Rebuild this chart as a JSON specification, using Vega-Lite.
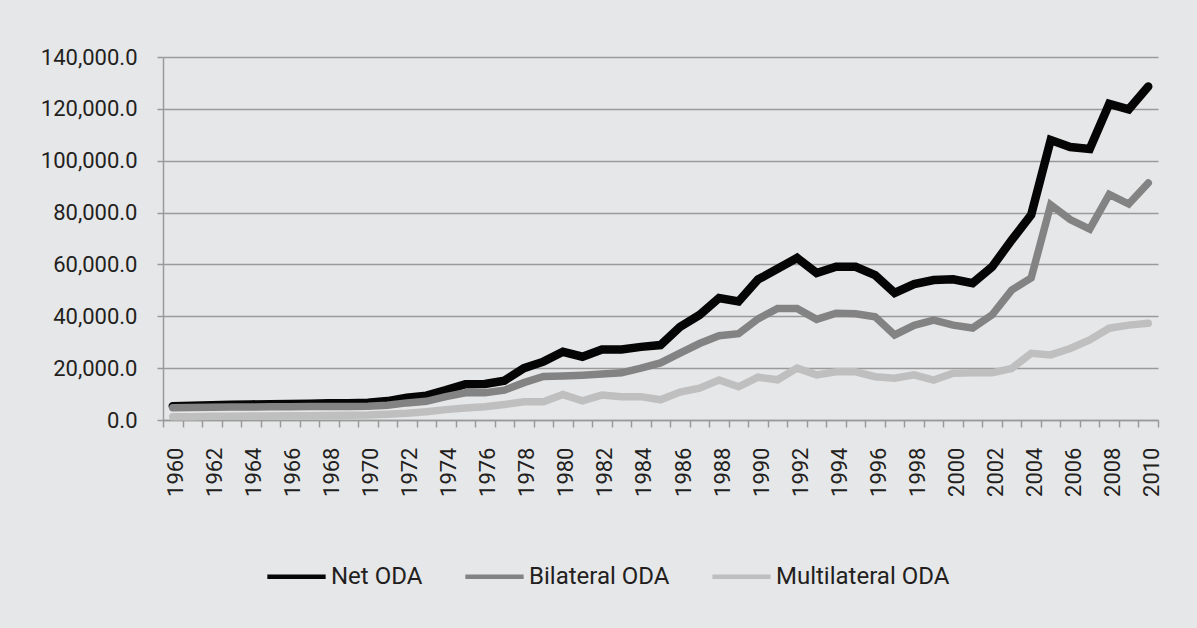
{
  "$schema": "https://vega.github.io/schema/vega-lite/v6.json",
  "autosize": {"type": "none"},
  "width": 995,
  "height": 363,
  "padding": {"left": 163, "top": 57, "right": 39, "bottom": 208},
  "background": "#e6e7e9",
  "config": {
    "view": {"stroke": null},
    "font": "Roboto",
    "axis": {"labelFont": "Roboto", "labelColor": "#231f20", "domainColor": "#9a9a9a", "tickColor": "#9a9a9a", "gridColor": "#9a9a9a", "domainWidth": 1.5, "tickWidth": 1.5, "gridWidth": 1.5}
  },
  "datasets": {
    "oda": [
      {"year":1960,"series":"Net ODA","value":5300},{"year":1961,"series":"Net ODA","value":5500},{"year":1962,"series":"Net ODA","value":5700},{"year":1963,"series":"Net ODA","value":5900},{"year":1964,"series":"Net ODA","value":6000},{"year":1965,"series":"Net ODA","value":6100},{"year":1966,"series":"Net ODA","value":6200},{"year":1967,"series":"Net ODA","value":6300},{"year":1968,"series":"Net ODA","value":6500},{"year":1969,"series":"Net ODA","value":6500},{"year":1970,"series":"Net ODA","value":6700},{"year":1971,"series":"Net ODA","value":7300},{"year":1972,"series":"Net ODA","value":8600},{"year":1973,"series":"Net ODA","value":9400},{"year":1974,"series":"Net ODA","value":11500},{"year":1975,"series":"Net ODA","value":13800},{"year":1976,"series":"Net ODA","value":13900},{"year":1977,"series":"Net ODA","value":15200},{"year":1978,"series":"Net ODA","value":20000},{"year":1979,"series":"Net ODA","value":22500},{"year":1980,"series":"Net ODA","value":26300},{"year":1981,"series":"Net ODA","value":24400},{"year":1982,"series":"Net ODA","value":27200},{"year":1983,"series":"Net ODA","value":27200},{"year":1984,"series":"Net ODA","value":28200},{"year":1985,"series":"Net ODA","value":28900},{"year":1986,"series":"Net ODA","value":35900},{"year":1987,"series":"Net ODA","value":40500},{"year":1988,"series":"Net ODA","value":47000},{"year":1989,"series":"Net ODA","value":45700},{"year":1990,"series":"Net ODA","value":54200},{"year":1991,"series":"Net ODA","value":58300},{"year":1992,"series":"Net ODA","value":62500},{"year":1993,"series":"Net ODA","value":56700},{"year":1994,"series":"Net ODA","value":59100},{"year":1995,"series":"Net ODA","value":59100},{"year":1996,"series":"Net ODA","value":55900},{"year":1997,"series":"Net ODA","value":49000},{"year":1998,"series":"Net ODA","value":52400},{"year":1999,"series":"Net ODA","value":54000},{"year":2000,"series":"Net ODA","value":54300},{"year":2001,"series":"Net ODA","value":52800},{"year":2002,"series":"Net ODA","value":59100},{"year":2003,"series":"Net ODA","value":69400},{"year":2004,"series":"Net ODA","value":79100},{"year":2005,"series":"Net ODA","value":108000},{"year":2006,"series":"Net ODA","value":105300},{"year":2007,"series":"Net ODA","value":104500},{"year":2008,"series":"Net ODA","value":121900},{"year":2009,"series":"Net ODA","value":119800},{"year":2010,"series":"Net ODA","value":128600},
      {"year":1960,"series":"Bilateral ODA","value":4700},{"year":1961,"series":"Bilateral ODA","value":4800},{"year":1962,"series":"Bilateral ODA","value":4900},{"year":1963,"series":"Bilateral ODA","value":5000},{"year":1964,"series":"Bilateral ODA","value":5000},{"year":1965,"series":"Bilateral ODA","value":5100},{"year":1966,"series":"Bilateral ODA","value":5100},{"year":1967,"series":"Bilateral ODA","value":5200},{"year":1968,"series":"Bilateral ODA","value":5200},{"year":1969,"series":"Bilateral ODA","value":5200},{"year":1970,"series":"Bilateral ODA","value":5300},{"year":1971,"series":"Bilateral ODA","value":5700},{"year":1972,"series":"Bilateral ODA","value":6600},{"year":1973,"series":"Bilateral ODA","value":7200},{"year":1974,"series":"Bilateral ODA","value":9000},{"year":1975,"series":"Bilateral ODA","value":10500},{"year":1976,"series":"Bilateral ODA","value":10500},{"year":1977,"series":"Bilateral ODA","value":11500},{"year":1978,"series":"Bilateral ODA","value":14400},{"year":1979,"series":"Bilateral ODA","value":16800},{"year":1980,"series":"Bilateral ODA","value":17000},{"year":1981,"series":"Bilateral ODA","value":17300},{"year":1982,"series":"Bilateral ODA","value":17700},{"year":1983,"series":"Bilateral ODA","value":18200},{"year":1984,"series":"Bilateral ODA","value":20000},{"year":1985,"series":"Bilateral ODA","value":22000},{"year":1986,"series":"Bilateral ODA","value":25800},{"year":1987,"series":"Bilateral ODA","value":29500},{"year":1988,"series":"Bilateral ODA","value":32500},{"year":1989,"series":"Bilateral ODA","value":33300},{"year":1990,"series":"Bilateral ODA","value":39000},{"year":1991,"series":"Bilateral ODA","value":43000},{"year":1992,"series":"Bilateral ODA","value":43000},{"year":1993,"series":"Bilateral ODA","value":38800},{"year":1994,"series":"Bilateral ODA","value":41200},{"year":1995,"series":"Bilateral ODA","value":41000},{"year":1996,"series":"Bilateral ODA","value":39800},{"year":1997,"series":"Bilateral ODA","value":32800},{"year":1998,"series":"Bilateral ODA","value":36500},{"year":1999,"series":"Bilateral ODA","value":38500},{"year":2000,"series":"Bilateral ODA","value":36600},{"year":2001,"series":"Bilateral ODA","value":35500},{"year":2002,"series":"Bilateral ODA","value":40600},{"year":2003,"series":"Bilateral ODA","value":50100},{"year":2004,"series":"Bilateral ODA","value":54800},{"year":2005,"series":"Bilateral ODA","value":83000},{"year":2006,"series":"Bilateral ODA","value":77300},{"year":2007,"series":"Bilateral ODA","value":73600},{"year":2008,"series":"Bilateral ODA","value":87000},{"year":2009,"series":"Bilateral ODA","value":83300},{"year":2010,"series":"Bilateral ODA","value":91400},
      {"year":1960,"series":"Multilateral ODA","value":1300},{"year":1961,"series":"Multilateral ODA","value":1300},{"year":1962,"series":"Multilateral ODA","value":1400},{"year":1963,"series":"Multilateral ODA","value":1400},{"year":1964,"series":"Multilateral ODA","value":1500},{"year":1965,"series":"Multilateral ODA","value":1500},{"year":1966,"series":"Multilateral ODA","value":1600},{"year":1967,"series":"Multilateral ODA","value":1600},{"year":1968,"series":"Multilateral ODA","value":1700},{"year":1969,"series":"Multilateral ODA","value":1800},{"year":1970,"series":"Multilateral ODA","value":1900},{"year":1971,"series":"Multilateral ODA","value":2200},{"year":1972,"series":"Multilateral ODA","value":2600},{"year":1973,"series":"Multilateral ODA","value":3200},{"year":1974,"series":"Multilateral ODA","value":4000},{"year":1975,"series":"Multilateral ODA","value":4600},{"year":1976,"series":"Multilateral ODA","value":5100},{"year":1977,"series":"Multilateral ODA","value":6000},{"year":1978,"series":"Multilateral ODA","value":7000},{"year":1979,"series":"Multilateral ODA","value":7000},{"year":1980,"series":"Multilateral ODA","value":9800},{"year":1981,"series":"Multilateral ODA","value":7400},{"year":1982,"series":"Multilateral ODA","value":9600},{"year":1983,"series":"Multilateral ODA","value":9000},{"year":1984,"series":"Multilateral ODA","value":9000},{"year":1985,"series":"Multilateral ODA","value":7800},{"year":1986,"series":"Multilateral ODA","value":10800},{"year":1987,"series":"Multilateral ODA","value":12300},{"year":1988,"series":"Multilateral ODA","value":15400},{"year":1989,"series":"Multilateral ODA","value":12800},{"year":1990,"series":"Multilateral ODA","value":16500},{"year":1991,"series":"Multilateral ODA","value":15500},{"year":1992,"series":"Multilateral ODA","value":20000},{"year":1993,"series":"Multilateral ODA","value":17400},{"year":1994,"series":"Multilateral ODA","value":18600},{"year":1995,"series":"Multilateral ODA","value":18600},{"year":1996,"series":"Multilateral ODA","value":16700},{"year":1997,"series":"Multilateral ODA","value":16100},{"year":1998,"series":"Multilateral ODA","value":17400},{"year":1999,"series":"Multilateral ODA","value":15400},{"year":2000,"series":"Multilateral ODA","value":18000},{"year":2001,"series":"Multilateral ODA","value":18200},{"year":2002,"series":"Multilateral ODA","value":18200},{"year":2003,"series":"Multilateral ODA","value":19900},{"year":2004,"series":"Multilateral ODA","value":25700},{"year":2005,"series":"Multilateral ODA","value":25100},{"year":2006,"series":"Multilateral ODA","value":27600},{"year":2007,"series":"Multilateral ODA","value":30900},{"year":2008,"series":"Multilateral ODA","value":35400},{"year":2009,"series":"Multilateral ODA","value":36600},{"year":2010,"series":"Multilateral ODA","value":37300}
    ]
  },
  "data": {"name": "oda"},
  "encoding": {
    "x": {
      "field": "year", "type": "ordinal",
      "scale": {"type": "band", "paddingInner": 0, "paddingOuter": 0},
      "axis": {
        "title": null, "labelAngle": -90, "labelFontSize": 22, "labelPadding": 20,
        "labelAlign": "right", "labelBaseline": "middle", "labelOffset": 3,
        "tickBand": "extent", "tickSize": 7, "grid": false,
        "labelExpr": "datum.value % 2 == 0 ? datum.label : ''"
      }
    },
    "y": {
      "field": "value", "type": "quantitative",
      "scale": {"domain": [0, 140000], "nice": false},
      "axis": {
        "title": null, "values": [0,20000,40000,60000,80000,100000,120000,140000],
        "format": ",.1f", "labelFontSize": 22, "labelPadding": 20, "tickSize": 6,
        "grid": true
      }
    },
    "color": {
      "field": "series", "type": "nominal",
      "scale": {"domain": ["Net ODA","Bilateral ODA","Multilateral ODA"], "range": ["#050505","#838383","#bfbfbf"]},
      "legend": {
        "title": null, "orient": "none", "direction": "horizontal",
        "legendX": 102, "legendY": 488,
        "symbolType": "stroke", "symbolSize": 3400, "symbolStrokeWidth": 4.5,
        "labelFont": "Roboto", "labelFontSize": 24, "labelColor": "#231f20", "labelLimit": 400,
        "labelOffset": 3, "columnPadding": 33, "padding": 0
      }
    }
  },
  "layer": [
    {"transform": [{"filter": "datum.series == 'Net ODA'"}], "mark": {"type": "line", "strokeWidth": 8.5, "strokeCap": "round", "strokeJoin": "miter"}},
    {"transform": [{"filter": "datum.series == 'Bilateral ODA'"}], "mark": {"type": "line", "strokeWidth": 7.5, "strokeCap": "round", "strokeJoin": "miter"}},
    {"transform": [{"filter": "datum.series == 'Multilateral ODA'"}], "mark": {"type": "line", "strokeWidth": 7.5, "strokeCap": "round", "strokeJoin": "miter"}}
  ]
}
